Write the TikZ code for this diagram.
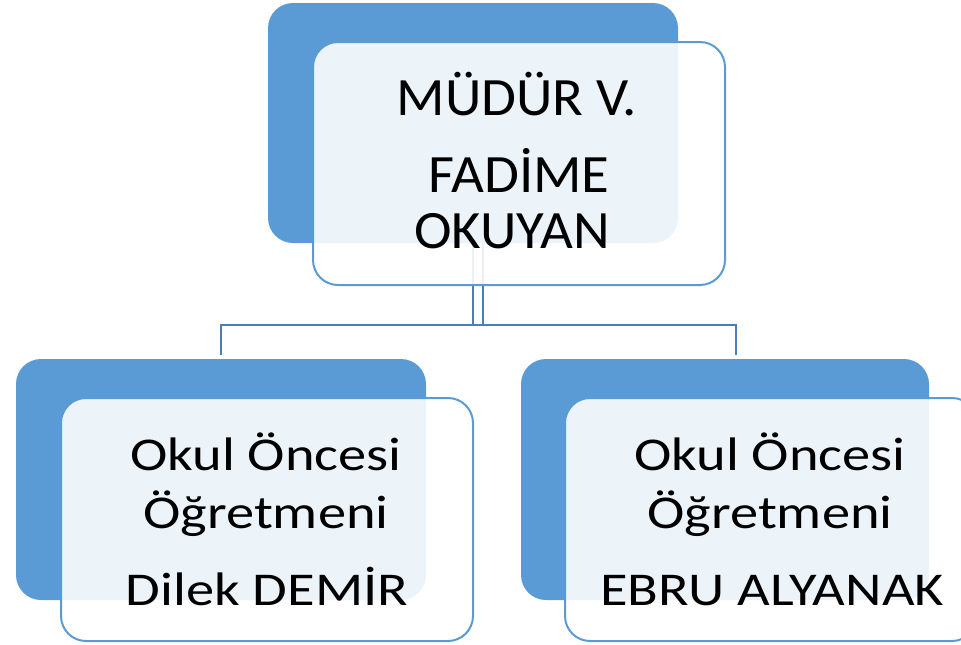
\documentclass[tikz,border=0pt]{standalone}
\usepackage{fontspec}
\setmainfont{Carlito}
\newfontfamily\headfont[FakeStretch=1.05]{Carlito}
\newfontfamily\stafffont[FakeStretch=1.2]{Carlito}
\definecolor{backblue}{HTML}{5B9BD5}
\definecolor{linkblue}{HTML}{4A7EBB}
\tikzset{
  backbox/.style={rectangle,rounded corners=25pt,fill=backblue,inner sep=0pt,outer sep=0pt,anchor=north west},
  frontbox/.style={rectangle,rounded corners=25pt,draw=backblue,line width=2pt,fill=white,fill opacity=0.89,inner sep=0pt,outer sep=0pt,anchor=north west,minimum width=412pt,minimum height=243pt},
  link/.style={draw=linkblue,line width=2pt},
  headtext/.style={anchor=base,font=\headfont\fontsize{54}{60}\selectfont},
  stafftext/.style={anchor=base,font=\stafffont\fontsize{47}{52}\selectfont}
}

\begin{document}
\begin{tikzpicture}[x=1pt,y=-1pt]
\clip (0,0) rectangle (961,645);
% back boxes
\node[backbox,minimum width=410pt,minimum height=240pt] (topback) at (268,3) {};
\node[backbox,minimum width=410pt,minimum height=241pt] (leftback) at (16,359) {};
\node[backbox,minimum width=408pt,minimum height=241pt] (rightback) at (521,359) {};
% connectors
\coordinate (hub) at (478,325);
\coordinate (leftdrop) at (221,355);
\coordinate (rightdrop) at (736,355);
\draw[link] (topback.south) -- (topback.south |- hub);
\draw[link] ([xshift=10pt]topback.south) -- ([xshift=10pt]topback.south |- hub);
\draw[link] (leftdrop) |- (hub) -| (rightdrop);
% front boxes
\node[frontbox] (topfront) at (313,42) {};
\node[frontbox] (leftfront) at (61,398) {};
\node[frontbox] (rightfront) at (565,398) {};
% texts
\node[headtext] (role) at (517,115) {MÜDÜR V.};
\node[headtext] (first) at (519,192) {FADİME};
\node[headtext] (last) at (512,248) {OKUYAN};
\node[stafftext] (lunit) at (266,470) {Okul Öncesi};
\node[stafftext] (ltitle) at (266,528) {Öğretmeni};
\node[stafftext] (lname) at (267,605) {Dilek DEMİR};
\node[stafftext] (runit) at (770,470) {Okul Öncesi};
\node[stafftext] (rtitle) at (770,528) {Öğretmeni};
\node[stafftext] (rname) at (772,605) {EBRU ALYANAK};
\end{tikzpicture}
\end{document}
